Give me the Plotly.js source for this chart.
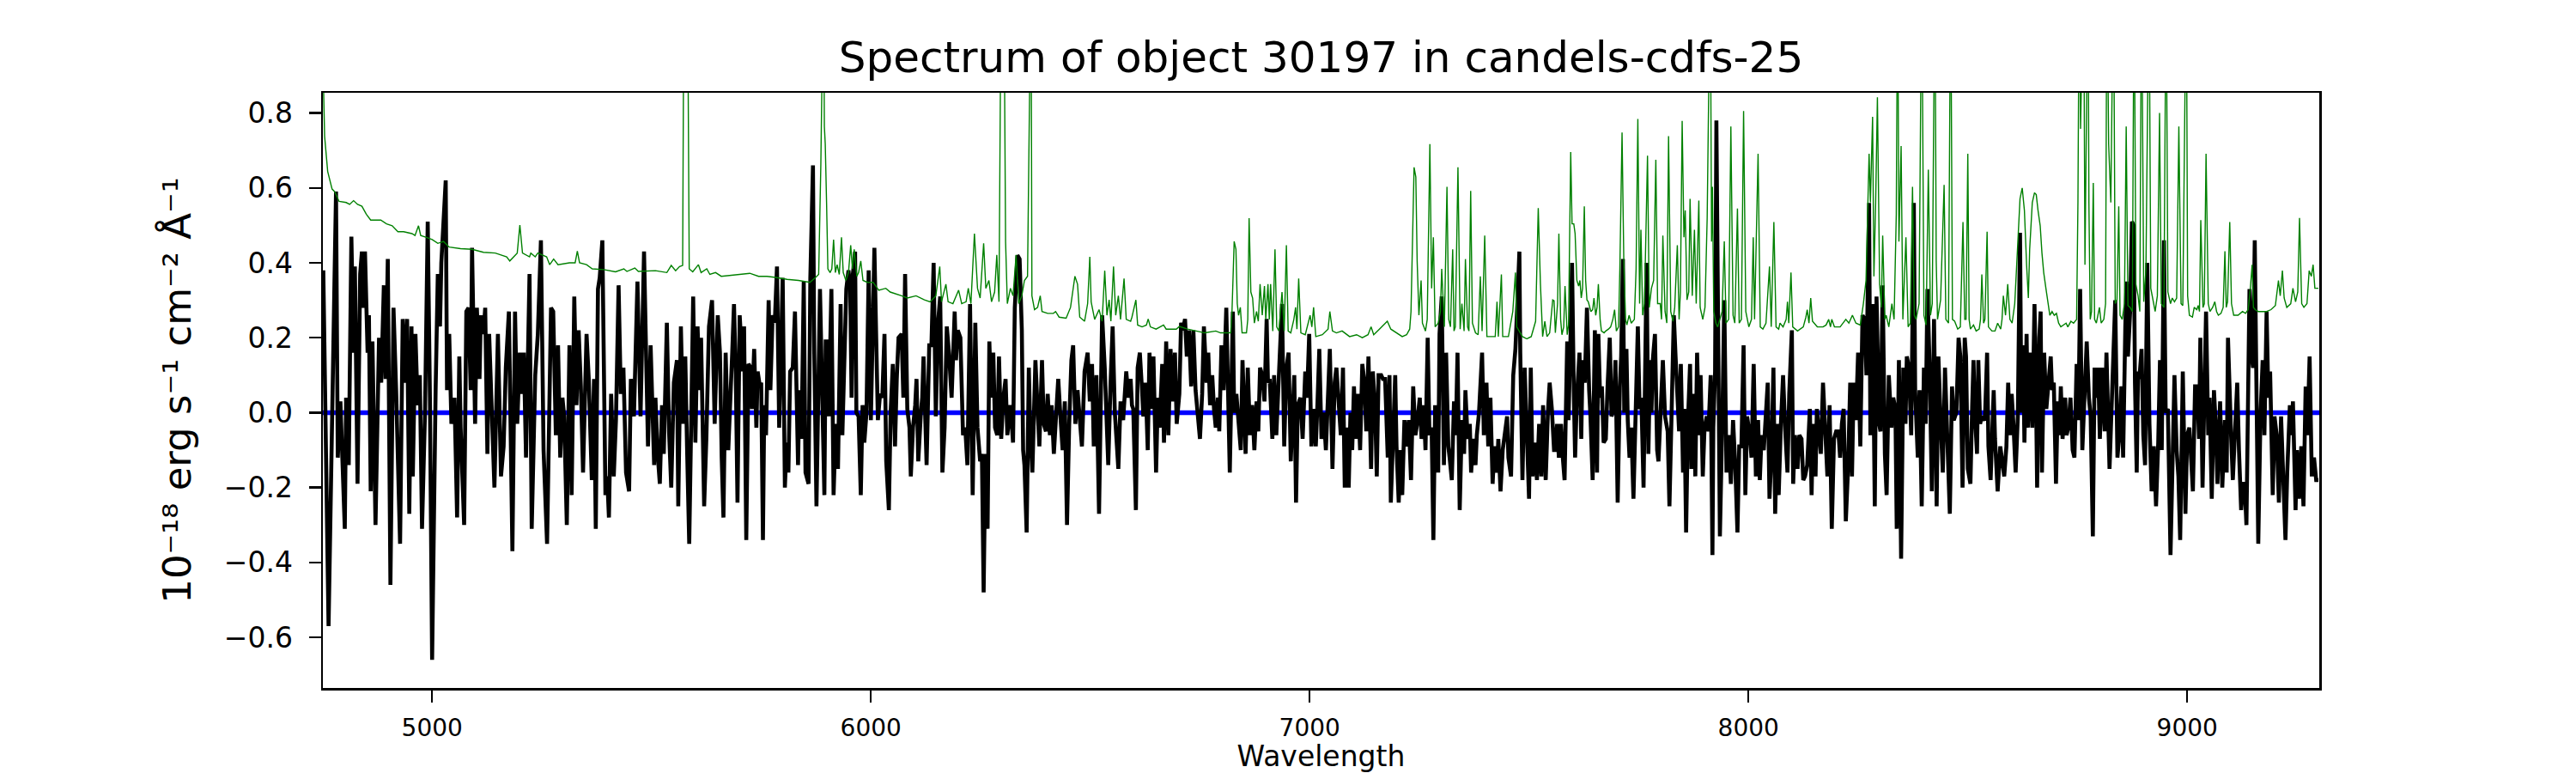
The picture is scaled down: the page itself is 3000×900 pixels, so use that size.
<!DOCTYPE html>
<html>
<head>
<meta charset="utf-8">
<script src="https://cdn.plot.ly/plotly-3.0.1.min.js"></script>
<style>html,body{margin:0;padding:0;background:#fff;}#chart{width:3000px;height:900px;}</style>
</head>
<body>
<div id="chart"></div>
<script>
// ---- data ----
const titleText = "Spectrum of object 30197 in candels-cdfs-25";
const yTitleText = "10⁻¹⁸ erg s⁻¹ cm⁻² Å⁻¹";
const xTitleText = "Wavelength";
const xTickValues = [5000, 6000, 7000, 8000, 9000];
const yTickValues = [-0.6, -0.4, -0.2, 0.0, 0.2, 0.4, 0.6, 0.8];
const xRange = [4751, 9301];
const yRange = [-0.735, 0.854];
const zeroLevel = [0, 0];

// black: object flux
const fluxWave = [
4752,4764,4781,4785,4791,4796,4801,4804,4810,4816,4821,4824,4830,4836,4840,4843,4847,4853,4856,4860,
4864,4871,4879,4884,4890,4894,4899,4905,4912,4918,4927,4933,4937,4943,4948,4953,4956,4962,4967,4972,
4977,4984,4990,4995,5000,5008,5013,5018,5021,5031,5034,5039,5044,5051,5057,5062,5065,5073,5078,5083,
5088,5091,5098,5102,5108,5111,5117,5121,5126,5130,5137,5142,5150,5157,5163,5168,5175,5183,5189,5194,
5200,5204,5209,5214,5222,5227,5235,5241,5248,5254,5262,5271,5276,5282,5287,5292,5297,5301,5307,5313,
5318,5324,5329,5334,5339,5344,5352,5357,5364,5369,5373,5378,5382,5388,5395,5399,5403,5408,5414,5419,
5425,5430,5436,5442,5449,5453,5460,5468,5475,5483,5488,5492,5498,5506,5509,5514,5519,5524,5528,5535,
5540,5545,5551,5558,5561,5567,5572,5577,5581,5586,5595,5600,5605,5610,5613,5620,5625,5631,5638,5644,
5651,5656,5660,5664,5669,5675,
5684,5688,5692,5696,5701,5705,5708,5711,5716,5721,5726,5729,5734,5739,5742,5747,5750,5754,5757,5761,
5767,5771,5776,5781,5786,5791,5794,5799,5804,5808,5812,5816,5822,5827,5834,5837,5842,5847,5851,5858,
5862,5868,5871,5876,5884,5889,5894,5897,5900,5904,5910,5915,5920,5925,5931,5935,5939,5944,5949,5953,
5956,5959,5964,5967,5972,5977,5981,5985,5990,5995,6000,6003,6008,6013,6016,6021,6026,6031,6035,6041,
6045,6050,6055,6059,6063,6070,6074,6078,6083,6088,6091,6096,6101,6104,6108,6114,6117,6120,6127,6133,
6138,6143,6148,6153,6158,6163,6168,6173,6178,6184,6191,6194,6198,6204,6210,6215,6220,6226,6232,6238,
6243,6249,6253,6257,6261,6266,6270,6274,6279,6283,6288,6292,6297,6302,6307,6311,6318,6324,6328,6334,
6339,6344,6347,6350,6355,6360,6363,6368,6375,6380,6384,6390,6394,6399,6403,6408,6412,6417,6422,6427,
6432,6437,6442,6447,6452,6457,6461,6466,6471,6476,6481,6487,6494,6499,6504,6508,6514,6520,6527,6533,
6536,6541,6546,6551,6556,6564,6569,6575,6582,6587,6592,6595,6598,6604,6608,6613,6618,
6621,6626,6631,6635,6639,6644,6650,6654,6658,6664,6668,6673,6678,6683,6688,6693,6697,6703,6707,6711,
6716,6720,6725,6730,6735,6740,6745,6750,6755,6759,6765,6769,6773,6778,6782,6786,6791,6794,6799,6804,
6810,6814,6818,6825,6828,6833,6838,6843,6847,6851,6854,6859,6864,6869,6874,6879,6883,6887,6892,6897,
6902,6905,6909,6915,6919,6924,6929,6933,6937,6942,6947,6952,6957,6962,6965,6969,6973,6979,6984,6990,
6994,6999,7004,7009,7014,7018,7022,7027,7032,7037,7042,7046,7052,7057,7061,7066,7071,7076,7080,7084,
7089,7093,7097,7101,7105,7110,7115,7120,7125,7129,7134,7140,7144,7149,7153,7157,7163,7167,7172,7178,
7182,7185,7191,7195,7198,7203,7207,7211,7216,7221,7226,7231,7236,7241,7245,7251,7255,7260,7264,7269,
7273,7278,7282,7286,7293,7296,7301,7306,7311,7316,7319,7324,7329,7333,7337,7342,7347,7352,7355,7360,
7365,7368,7373,7378,7381,7386,7393,7397,7403,7407,7412,7417,7421,7427,7430,7435,7440,7445,7450,7453,
7459,7464,7469,7474,7478,7480,7485,7490,7495,7500,7504,7508,7513,7518,7523,7528,7532,7538,7543,7547,
7552,7557,
7560,7564,7568,7573,7577,7581,7587,7590,7594,7598,7602,7605,7609,7615,7619,7622,7627,7632,7637,7640,
7645,7650,7655,7658,7662,7666,7670,7675,7679,7684,7688,7693,7697,7702,7707,7710,7714,7717,7722,7725,
7729,7733,7738,7743,7748,7752,7756,7761,7765,7768,7772,7776,7779,7782,7787,7792,7795,7800,7805,7810,
7816,7820,7825,7830,7834,7838,7842,7846,7851,7854,7858,7862,7867,7870,7875,7879,7883,7888,7891,7896,
7900,7905,7909,7914,7918,7920,7924,7927,7931,7935,7941,7945,7950,7955,7960,7965,7970,7975,7979,7984,
7989,7993,7997,8003,8007,8012,8017,8022,8026,8030,8035,8040,8044,8048,8053,8057,8061,8066,8069,8074,
8079,8084,8089,8093,8099,8102,8106,8112,8116,8121,8125,8129,8134,8140,8144,8147,8153,8156,8161,8165,
8170,8175,8180,8185,8190,8195,8200,8205,8209,8213,8217,8222,8227,8232,8236,8240,8245,8250,8255,8260,
8265,8269,8275,8278,8283,8288,8292,8298,8301,8306,8311,8315,8320,8326,8330,8335,8338,8343,8348,8353,
8358,8361,8366,8371,8377,8380,8386,8390,8395,8400,8404,8408,8413,8418,8423,8429,8433,8438,8443,8448,
8453,8459,8464,8468,8474,8479,8483,8488,8493,8496,
8500,8506,8510,8513,8516,8521,8524,8528,8532,8539,8544,8547,8552,8559,8562,8568,8574,8578,8583,8588,
8592,8596,8600,8604,8609,8614,8619,8622,8626,8629,8634,8637,8641,8647,8652,8655,8658,8663,8666,8669,
8674,8679,8684,8689,8692,8696,8701,8705,8709,8712,8716,8722,8725,8729,8734,8739,8743,8748,8752,8756,
8761,8765,8771,8776,8780,8785,8789,8793,8797,8801,8806,8812,8816,8823,8829,8836,8841,8846,8850,8854,
8859,8862,8865,8870,8874,8878,8881,8885,8888,8891,8896,8900,8904,8909,8914,8919,8924,8929,8934,8938,
8942,8947,8951,8956,8962,8966,8971,8976,8980,8984,8990,8996,9000,9005,9009,9013,9018,9023,9027,9030,
9035,9038,9043,9048,9051,9056,9061,9065,9069,9075,9080,9086,9090,9093,9097,9100,9104,9110,9114,9118,
9123,9127,9131,9135,9139,9142,9148,9150,9154,9159,9162,9167,9172,9176,9181,9185,9189,9195,9199,9204,
9209,9214,9219,9224,9228,9234,9238,9241,9247,9250,9255,9260,9265,9270,9274,9279,9284,9289,9294,9299
];
const fluxValue = [
0.38,-0.57,0.59,-0.12,0.03,-0.12,-0.31,0.04,-0.14,0.47,0.16,0.39,-0.19,0.37,0.43,0.28,0.43,0.16,0.26,-0.21,
0.19,-0.30,0.20,0.08,0.34,0.09,0.41,-0.46,0.28,0.06,-0.35,0.25,0.08,0.25,-0.27,0.23,-0.17,0.21,0.02,0.10,
-0.31,0.01,0.51,0.04,-0.66,0.06,0.37,0.23,0.40,0.62,0.06,0.21,-0.03,0.04,-0.28,0.15,-0.04,-0.30,0.27,0.28,
0.06,0.44,-0.03,0.28,0.09,0.26,0.21,0.28,-0.11,0.21,-0.08,-0.20,0.21,-0.17,-0.09,0.12,0.27,-0.37,0.27,-0.03,
0.16,0.05,0.16,-0.12,0.37,-0.31,0.10,0.21,0.46,-0.10,-0.35,0.28,0.27,-0.06,0.18,-0.12,0.04,-0.01,-0.30,0.18,
-0.22,0.31,0.02,0.22,0.07,-0.16,0.21,0.09,-0.18,0.09,-0.31,0.33,0.36,0.46,-0.22,-0.17,-0.28,0.05,-0.17,-0.02,
0.34,0.05,0.12,-0.16,-0.21,0.09,-0.01,0.35,-0.01,0.43,0.14,-0.09,0.18,-0.14,0.04,-0.11,-0.19,0.02,-0.11,0.24,
-0.05,-0.20,0.08,0.14,-0.25,0.23,-0.03,0.15,-0.09,-0.35,0.31,-0.08,0.23,0.06,0.20,-0.25,-0.07,0.23,0.30,-0.03,
0.26,0.16,-0.12,-0.28,0.16,-0.10,
0.16,0.29,0.11,-0.24,0.26,0.17,0.11,0.23,-0.34,0.13,0.12,0.01,0.17,-0.04,0.11,0.07,0.08,-0.34,0.02,-0.06,
0.30,0.06,0.26,0.24,0.39,-0.04,0.14,0.36,-0.20,-0.08,-0.16,0.11,0.12,0.27,-0.14,0.06,-0.07,0.35,-0.16,-0.19,
0.36,0.66,0.16,-0.25,0.33,0.02,-0.22,0.19,0.19,-0.01,0.33,-0.22,-0.03,-0.15,0.29,-0.06,0.10,0.33,0.38,0.33,
0.04,0.37,0.43,0.00,-0.01,-0.22,0.02,-0.08,0.00,0.38,-0.02,0.12,0.44,0.15,-0.02,0.05,0.04,0.21,-0.13,-0.26,
0.00,0.13,-0.09,0.09,0.20,0.21,0.04,0.37,0.01,-0.04,-0.17,-0.04,0.02,0.09,-0.13,0.00,0.04,0.15,-0.14,0.18,
0.18,0.40,-0.01,0.24,0.31,-0.16,-0.04,0.23,0.16,0.04,0.27,0.14,0.22,0.20,-0.06,-0.04,-0.14,0.29,-0.22,0.24,
-0.04,-0.13,-0.11,-0.48,-0.11,-0.31,0.19,0.04,0.16,-0.04,-0.06,0.15,-0.07,0.04,0.09,-0.06,0.02,-0.08,0.28,0.42,
0.41,0.22,-0.10,-0.14,-0.32,0.12,-0.04,-0.16,0.14,0.01,-0.09,0.14,-0.03,-0.05,0.05,-0.06,0.02,-0.11,-0.02,0.09,
-0.01,-0.10,0.03,-0.30,-0.03,0.14,0.18,-0.03,0.06,-0.02,-0.09,0.11,0.16,0.03,0.13,-0.09,0.10,-0.27,0.26,0.12,
0.04,-0.14,0.07,0.23,0.00,-0.15,0.03,-0.02,0.11,0.04,0.09,0.02,0.01,-0.26,0.12,0.16,0.06,
-0.01,0.08,-0.10,0.16,0.01,0.15,-0.16,0.04,-0.04,0.13,-0.08,0.19,-0.06,0.17,0.03,0.16,-0.03,0.05,0.24,0.22,
0.25,0.15,0.22,0.07,0.22,0.06,-0.01,-0.07,0.05,0.23,0.08,0.16,0.02,0.10,0.01,-0.04,0.04,-0.05,0.18,0.06,
0.28,0.04,-0.16,0.27,0.00,0.05,-0.04,-0.10,0.14,0.01,-0.11,0.12,-0.06,0.02,-0.10,0.03,-0.05,0.12,0.10,0.03,
0.25,0.08,0.09,-0.07,0.10,-0.06,0.06,0.14,0.29,-0.09,0.12,0.16,-0.13,0.02,0.10,-0.24,0.02,0.04,-0.07,0.11,
0.04,0.21,-0.09,0.01,-0.09,0.03,0.17,-0.07,0.00,-0.10,0.04,0.17,-0.15,0.08,0.12,0.02,-0.06,0.12,-0.20,-0.04,
-0.20,0.00,-0.10,0.07,-0.07,0.05,-0.10,0.13,0.08,-0.05,0.15,-0.15,0.11,0.02,-0.17,0.10,0.10,0.09,0.09,-0.12,
0.10,-0.24,-0.02,0.10,-0.09,-0.24,-0.10,-0.22,-0.02,-0.09,-0.02,-0.18,0.07,-0.06,-0.03,0.04,-0.07,0.02,-0.10,0.20,
-0.06,-0.04,-0.34,0.02,-0.16,0.21,0.31,-0.14,0.16,-0.09,-0.12,-0.18,0.03,-0.06,0.16,-0.26,-0.02,-0.11,0.06,-0.07,
-0.03,-0.16,-0.07,-0.14,-0.06,0.00,0.16,-0.06,0.08,-0.09,0.04,-0.19,-0.09,-0.16,-0.07,-0.21,-0.10,-0.06,-0.01,-0.12,
-0.17,0.10,0.17,0.31,0.43,0.16,-0.18,0.12,-0.09,-0.23,0.12,-0.17,-0.08,-0.18,-0.03,-0.17,0.02,-0.18,0.00,0.08,
0.01,-0.10,
-0.10,-0.03,-0.12,-0.03,-0.12,-0.18,0.19,-0.02,0.17,0.40,0.06,-0.12,0.04,0.16,-0.07,0.14,0.08,0.28,0.06,-0.01,
-0.18,0.22,-0.16,0.21,0.04,0.07,-0.08,-0.07,0.07,0.20,-0.01,0.01,0.14,-0.24,0.07,0.15,0.41,0.00,0.17,-0.02,
-0.12,-0.04,-0.23,0.04,0.23,0.01,0.04,-0.20,0.14,0.40,-0.11,0.14,0.00,0.14,0.21,-0.10,-0.13,0.01,0.14,-0.01,
-0.05,-0.25,-0.03,0.26,0.15,0.04,-0.05,0.13,-0.16,0.01,-0.32,-0.03,0.13,-0.15,0.05,-0.17,0.16,-0.06,0.10,-0.17,
-0.04,-0.01,-0.05,0.10,-0.38,-0.04,0.11,0.78,0.21,-0.33,0.01,0.30,-0.16,-0.06,-0.19,-0.02,-0.14,-0.32,-0.09,-0.09,
0.18,-0.22,-0.01,-0.06,-0.12,0.13,-0.17,-0.02,-0.18,-0.06,-0.10,-0.01,0.08,-0.23,-0.10,0.12,-0.27,-0.03,-0.22,-0.03,
0.10,-0.05,-0.16,0.05,0.22,-0.19,-0.06,-0.15,-0.06,-0.07,-0.18,-0.17,-0.14,0.01,-0.22,-0.03,-0.17,0.01,-0.06,-0.11,
0.08,-0.06,-0.17,0.02,-0.31,-0.07,-0.05,-0.05,-0.12,-0.03,0.01,-0.29,-0.15,0.08,-0.17,0.08,-0.02,0.16,-0.09,0.26,
0.25,0.10,0.56,-0.06,0.29,-0.25,0.31,-0.03,-0.05,0.34,-0.11,-0.22,0.10,-0.04,0.04,0.01,-0.31,0.14,-0.39,0.12,
-0.03,0.15,0.12,-0.06,0.56,0.06,-0.12,0.06,-0.25,0.12,-0.03,0.33,0.12,-0.21,0.25,-0.25,0.15,-0.02,-0.16,0.12,
-0.03,-0.27,0.07,-0.02,0.00,0.20,0.15,-0.20,0.20,0.15,
-0.15,-0.19,0.02,0.14,0.00,-0.11,0.14,-0.03,-0.01,-0.02,0.16,-0.09,-0.18,0.06,-0.07,-0.21,-0.09,-0.12,-0.17,-0.09,
0.08,-0.06,0.05,-0.03,-0.16,-0.01,0.48,0.00,0.18,-0.08,0.21,-0.04,0.16,-0.04,0.29,0.10,-0.20,0.20,0.27,-0.16,
0.16,0.01,0.09,0.15,0.06,0.08,-0.19,0.03,-0.06,0.07,-0.07,0.04,-0.06,-0.04,0.04,-0.10,-0.12,0.13,-0.02,0.33,
-0.10,0.01,0.19,0.04,-0.01,-0.33,0.12,0.04,0.12,-0.07,0.12,-0.05,0.16,-0.15,0.07,0.30,-0.12,-0.05,0.07,-0.12,
0.23,0.35,0.15,0.27,0.51,0.50,0.08,-0.16,0.11,0.09,0.17,-0.06,-0.14,0.40,-0.03,-0.21,-0.09,-0.25,-0.08,0.14,
-0.10,0.46,0.00,0.01,-0.38,-0.10,0.10,-0.10,-0.17,-0.34,0.11,-0.27,-0.06,-0.04,-0.12,-0.21,0.07,0.07,-0.07,0.20,
-0.20,0.00,0.27,-0.06,0.04,-0.23,0.06,-0.03,-0.19,0.03,-0.20,-0.02,-0.16,0.20,0.02,-0.06,-0.18,-0.02,0.08,-0.10,
-0.26,-0.19,-0.19,-0.30,0.04,0.33,0.14,0.12,0.46,0.04,-0.35,-0.01,0.14,-0.06,0.27,0.04,0.11,-0.22,-0.01,-0.06,
-0.24,-0.01,-0.17,-0.34,-0.16,0.02,-0.06,0.03,-0.26,-0.10,-0.23,-0.09,-0.25,0.07,-0.06,0.15,-0.17,-0.12,-0.18,-0.18
];

// green: second spectrum (values above the axis top are clipped in the picture)
const greenWave = [
4751,4755,4762,4772,4778,4788,4804,4812,4821,4830,4840,4850,4860,4870,4883,4896,4909,4922,4935,4954,
4961,4969,4974,4987,5000,5013,5026,5039,5065,5091,5117,5144,5170,5177,5186,5194,5200,5206,5222,5225,
5235,5241,5251,5261,5268,5277,5287,5313,5326,5331,5336,5352,5365,5391,5418,5437,5444,5462,5470,5509,
5535,5545,5555,5564,5571,5574,5582,5586,5594,5607,5613,5626,5633,5646,5659,5678,5705,5724,5744,5763,
5783,5809,5835,5861,5874,5881,5886,5888,5892,5894,5896,5899,5902,5907,5911,5915,5919,5923,5928,5933,
5937,5943,5949,5954,5958,5962,5968,5972,5977,5982,5992,6005,6018,6034,6044,6070,6083,6103,6122,6135,
6148,6157,6161,6171,6176,6187,6200,6207,6217,6222,6228,6236,6243,6249,6257,6262,6269,6275,6282,6287,
6292,6297,6303,6307,6311,6318,6324,6331,6337,6344,6350,6357,6361,6365,6367,6373,6380,6386,6390,6403,
6416,6421,6429,6445,6455,6465,6471,6476,6487,6494,6499,6502,6510,6520,6527,6533,6538,6543,6547,6553,
6558,6564,6569,6577,6582,6592,6595,6604,6608,6618,6628,6632,6637,6650,6667,6673,6696,6703,6722,6742,
6761,6786,6797,6820,6823,6828,6832,6835,6838,6842,6846,6856,6859,6862,6866,6870,6874,6879,6883,6887,
6892,6897,6900,6905,6908,6911,6916,6921,6925,6930,6934,6937,6942,6947,6951,6957,6964,6968,6971,6975,
6980,6990,7001,7005,7009,7014,7029,7042,7046,7052,7061,7074,7091,7107,7120,7133,7140,7146,7159,7169,
7177,7185,7198,7211,7221,7228,7231,7234,7238,7242,7245,7249,7254,7257,7264,7268,7274,7278,7282,7286,
7293,7298,7301,7307,7313,7317,7321,7326,7329,7332,7338,7343,7347,7352,7355,7360,7363,7367,7371,7378,
7384,7389,7393,7399,7404,7417,7423,7427,7430,7437,7440,7453,7463,7469,7472,7485,7495,7505,7515,7521,
7526,7531,7536,7541,7547,7554,7557,7560,7565,7568,7572,7575,7579,7582,7587,7590,7595,7598,7602,7605,
7609,7613,7616,7619,7622,7626,7629,7632,7635,7641,7645,7648,7652,7655,7658,7662,7665,7671,7675,7681,
7686,7691,7695,7699,7704,7707,7712,7716,7720,7723,7728,7733,7740,7744,7748,7752,7755,7759,7763,7766,
7770,7774,7779,7784,7789,7793,7799,7802,7805,7810,7814,7818,7823,7828,7832,7838,7842,7845,7849,7853,
7856,7860,7864,7867,7872,7877,7881,7887,7890,7896,7901,7906,7909,7913,7916,7918,7921,7926,7930,7935,
7940,7945,7949,7955,7960,7965,7969,7975,7979,7984,7989,7994,8001,8007,8011,8014,8022,8027,8033,8040,
8048,8052,8058,8063,8069,8072,8079,8086,8089,8092,8097,8101,8112,8125,8131,8134,8138,8142,8146,8157,
8170,8177,8183,8187,8190,8196,8209,8222,8229,8237,8245,8255,8262,8268,8275,8278,8283,8286,8290,8294,
8299,8303,8306,8311,8314,8320,8327,8332,8337,8340,8343,8348,8352,8359,8364,8369,8374,8378,8382,8389,
8395,8400,8405,8410,8415,8419,8425,8428,8431,8438,8442,8446,8450,8456,8461,8465,8470,8477,8483,8489,
8493,8496,8500,8503,8506,8513,8519,8526,8529,8532,8536,8539,8544,8547,8555,8562,8568,8575,8578,8581,
8586,8591,8596,8601,8607,8614,8619,8624,8629,8634,8638,8641,8647,8652,8656,8660,8665,8669,8673,8678,
8682,8687,8692,8697,8702,8707,8712,8718,8724,8728,8735,8741,8748,8751,8754,8757,8761,8764,8767,8770,
8774,8776,8779,8782,8786,8789,8793,8800,8804,8810,8814,8817,8821,8826,8829,8832,8836,8840,8844,8847,
8852,8857,8861,8865,8870,8875,8879,8883,8888,8892,8896,8901,8906,8909,8913,8917,8922,8927,8932,8937,
8941,8947,8952,8956,8962,8966,8971,8976,8981,8986,8990,8994,8998,9001,9005,9012,9016,9022,9025,9028,
9031,9036,9039,9043,9048,9052,9058,9063,9067,9071,9077,9082,9086,9089,9092,9097,9101,9106,9116,9126,
9133,9139,9144,9148,9151,9155,9162,9172,9181,9191,9201,9208,9212,9217,9221,9227,9236,9241,9247,9252,
9256,9261,9266,9273,9278,9283,9287,9291,9296,9299
];
const greenValue = [
0.95,0.738,0.644,0.597,0.590,0.564,0.561,0.556,0.566,0.556,0.551,0.530,0.514,0.514,0.514,0.504,0.499,0.483,0.483,0.478,
0.473,0.499,0.473,0.468,0.462,0.452,0.457,0.442,0.438,0.436,0.428,0.426,0.416,0.405,0.416,0.426,0.501,0.426,0.416,0.426,
0.416,0.426,0.421,0.416,0.395,0.410,0.395,0.400,0.400,0.431,0.400,0.395,0.384,0.382,0.376,0.384,0.377,0.386,0.377,0.379,
0.374,0.393,0.379,0.390,0.393,1.2,1.2,0.384,0.376,0.395,0.374,0.384,0.369,0.374,0.364,0.366,0.369,0.372,0.364,0.364,
0.361,0.356,0.353,0.348,0.361,0.369,0.665,1.2,1.2,0.764,0.717,0.561,0.384,0.374,0.384,0.462,0.374,0.395,0.369,0.468,
0.374,0.353,0.374,0.447,0.384,0.436,0.364,0.374,0.405,0.353,0.348,0.348,0.327,0.332,0.322,0.312,0.306,0.312,0.301,0.296,
0.312,0.390,0.296,0.343,0.296,0.291,0.327,0.291,0.296,0.332,0.291,0.478,0.332,0.306,0.452,0.332,0.353,0.296,0.322,0.421,
0.296,1.2,1.2,0.457,0.291,0.332,0.312,0.421,0.291,0.312,0.353,0.364,1.2,1.2,0.312,0.275,0.281,0.312,0.270,0.265,
0.265,0.270,0.255,0.252,0.281,0.364,0.343,0.255,0.244,0.291,0.416,0.296,0.249,0.275,0.244,0.379,0.260,0.301,0.244,0.390,
0.260,0.312,0.249,0.358,0.249,0.244,0.255,0.301,0.234,0.229,0.234,0.250,0.229,0.223,0.234,0.223,0.223,0.230,0.223,0.218,
0.213,0.218,0.213,0.213,0.270,0.457,0.436,0.291,0.260,0.281,0.213,0.213,0.249,0.519,0.322,0.306,0.239,0.270,0.244,0.343,
0.260,0.338,0.249,0.343,0.249,0.343,0.218,0.436,0.229,0.218,0.291,0.322,0.218,0.447,0.218,0.213,0.249,0.281,0.223,0.358,
0.213,0.208,0.260,0.229,0.281,0.203,0.208,0.223,0.270,0.218,0.213,0.218,0.203,0.208,0.200,0.208,0.229,0.208,0.223,0.234,
0.244,0.223,0.213,0.203,0.208,0.223,0.270,0.457,0.655,0.629,0.405,0.260,0.353,0.239,0.218,0.249,0.717,0.332,0.468,0.229,
0.239,0.270,0.384,0.229,0.603,0.249,0.229,0.436,0.218,0.229,0.655,0.223,0.291,0.218,0.410,0.229,0.218,0.592,0.239,0.213,
0.208,0.364,0.218,0.473,0.203,0.203,0.203,0.296,0.203,0.369,0.203,0.203,0.270,0.374,0.229,0.203,0.197,0.203,0.244,0.546,
0.343,0.203,0.244,0.203,0.213,0.301,0.299,0.213,0.291,0.478,0.249,0.208,0.229,0.338,0.208,0.234,0.696,0.504,0.504,0.478,
0.353,0.338,0.353,0.306,0.332,0.551,0.353,0.301,0.296,0.270,0.275,0.306,0.260,0.281,0.343,0.249,0.218,0.213,0.218,0.223,
0.229,0.249,0.275,0.218,0.229,0.384,0.748,0.405,0.249,0.234,0.260,0.239,0.249,0.384,0.784,0.291,0.488,0.260,0.291,0.457,
0.686,0.281,0.332,0.353,0.675,0.291,0.291,0.249,0.473,0.270,0.239,0.738,0.270,0.244,0.281,0.447,0.249,0.322,0.779,0.468,
0.540,0.301,0.322,0.571,0.312,0.488,0.291,0.566,0.281,0.249,0.281,0.520,1.2,1.2,0.457,0.603,0.270,0.239,0.229,0.249,
0.270,0.457,0.239,0.249,0.764,0.260,0.239,0.545,0.239,0.249,0.805,0.270,0.229,0.249,0.468,0.249,0.691,0.229,0.223,0.239,
0.390,0.229,0.509,0.229,0.223,0.239,0.229,0.249,0.296,0.239,0.374,0.229,0.218,0.229,0.255,0.275,0.239,0.306,0.244,0.229,
0.229,0.234,0.249,0.229,0.249,0.229,0.229,0.249,0.239,0.260,0.239,0.234,0.291,0.353,0.691,0.561,0.790,0.364,0.561,0.842,
0.343,0.281,0.473,0.249,0.260,0.229,0.291,0.249,0.530,1.2,0.457,0.712,0.249,0.468,0.229,0.239,0.603,0.260,0.249,0.291,
1.2,0.260,0.234,0.649,0.260,0.291,1.2,0.405,0.249,0.301,0.447,0.608,0.249,0.239,1.2,0.249,0.244,0.223,0.229,0.509,
0.249,0.249,0.691,0.249,0.223,0.234,0.218,0.223,0.249,0.369,0.239,0.249,0.483,0.229,0.218,0.218,0.239,0.223,0.249,0.312,
0.260,0.343,0.249,0.239,0.291,0.457,0.571,0.600,0.540,0.395,0.306,0.436,0.561,0.587,0.582,0.540,0.499,0.426,0.374,0.332,
0.296,0.260,0.270,0.260,0.265,0.239,0.229,0.234,0.239,0.229,0.244,0.239,0.249,0.561,1.2,0.758,1.2,1.2,0.395,1.2,
1.2,0.561,0.249,0.270,0.613,0.249,0.239,0.281,0.239,0.249,0.291,1.2,0.717,0.561,1.2,1.2,0.291,0.301,0.551,0.260,
0.249,0.291,0.764,0.286,0.281,0.270,1.2,0.343,0.312,0.270,1.2,0.296,0.384,1.2,1.2,0.332,0.301,0.270,0.312,0.800,
0.291,0.281,1.2,0.322,0.291,0.306,0.296,0.306,0.764,0.291,0.286,1.2,1.2,0.312,0.260,0.255,0.281,0.275,0.286,0.270,
0.514,0.281,0.291,0.691,0.291,0.270,0.281,0.296,0.270,0.260,0.265,0.281,0.431,0.281,0.296,0.509,0.291,0.260,0.260,0.270,
0.265,0.275,0.332,0.395,0.281,0.275,0.270,0.270,0.270,0.275,0.286,0.353,0.312,0.379,0.306,0.281,0.291,0.332,0.296,0.322,
0.520,0.291,0.281,0.291,0.379,0.364,0.395,0.332,0.332,0.332
];

// ---- chart ----
const font = "DejaVu Sans, Liberation Sans, sans-serif";
const traces = [
  {x: xRange, y: zeroLevel, type: "scatter", mode: "lines",
   line: {color: "#0000ff", width: 5.5}, hoverinfo: "skip"},
  {x: fluxWave, y: fluxValue, type: "scatter", mode: "lines",
   line: {color: "#000000", width: 4.6}, hoverinfo: "skip"},
  {x: greenWave, y: greenValue, type: "scatter", mode: "lines",
   line: {color: "#008000", width: 1.4}, hoverinfo: "skip"}
];
const layout = {
  width: 3000, height: 900,
  margin: {l: 376, r: 299, t: 108, b: 99, pad: 0},
  paper_bgcolor: "#ffffff", plot_bgcolor: "#ffffff",
  showlegend: false,
  font: {family: font, color: "#000000"},
  title: {text: titleText, font: {family: font, size: 50, color: "#000000"},
          x: 0.5, xref: "paper", xanchor: "center", y: 1 - 66 / 900, yref: "container", yanchor: "middle"},
  xaxis: {
    range: xRange, tickvals: xTickValues, ticktext: xTickValues.map(String),
    showgrid: false, zeroline: false, showline: true, mirror: true,
    linecolor: "#000000", linewidth: 2.5,
    ticks: "outside", ticklen: 14, tickwidth: 2.5, tickcolor: "#000000",
    tickfont: {family: font, size: 28, color: "#000000"},
    ticklabelstandoff: 6,
    title: {text: xTitleText, font: {family: font, size: 33, color: "#000000"}, standoff: 6}
  },
  yaxis: {
    range: yRange, tickvals: yTickValues, tickformat: ".1f",
    showgrid: false, zeroline: false, showline: true, mirror: true,
    linecolor: "#000000", linewidth: 2.5,
    ticks: "outside", ticklen: 14, tickwidth: 2.5, tickcolor: "#000000",
    tickfont: {family: font, size: 33, color: "#000000"},
    ticklabelstandoff: 12,
    title: {text: yTitleText, font: {family: font, size: 45, color: "#000000"}, standoff: 24}
  }
};
Plotly.newPlot("chart", traces, layout, {displayModeBar: false, staticPlot: true});
</script>
</body>
</html>
